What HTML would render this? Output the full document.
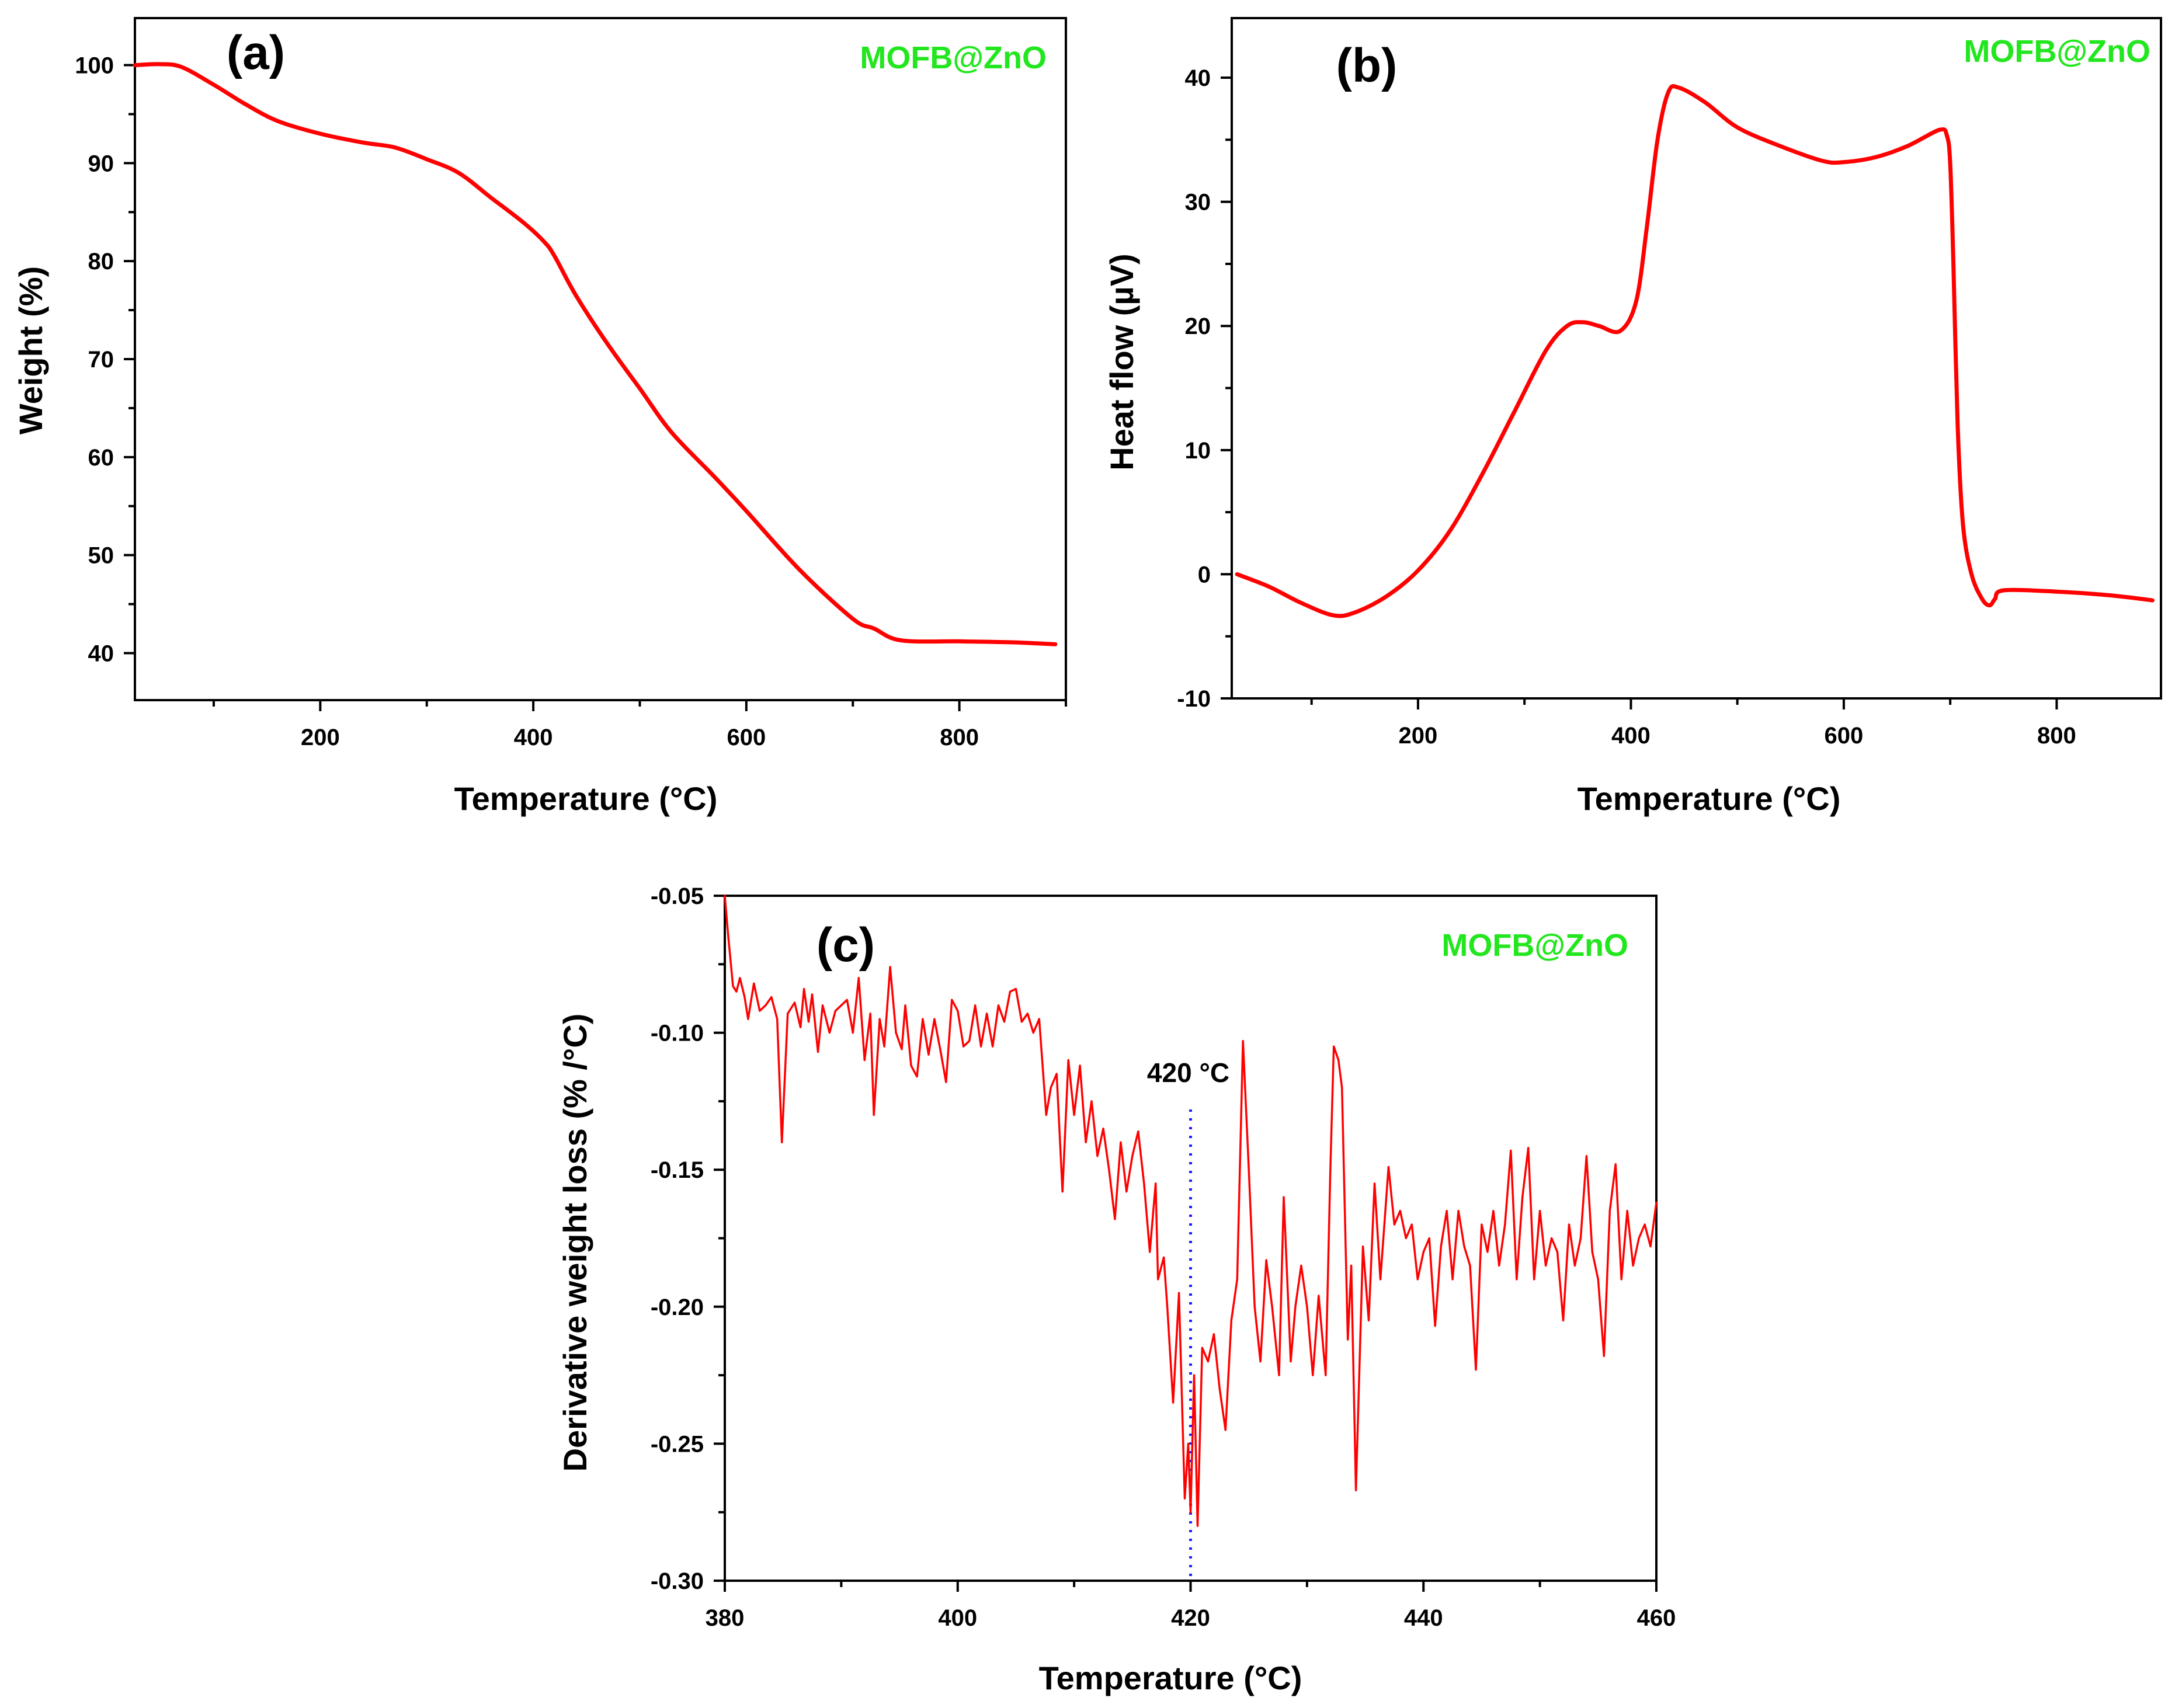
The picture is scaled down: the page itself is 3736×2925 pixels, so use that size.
<!DOCTYPE html>
<html><head><meta charset="utf-8">
<style>
html,body{margin:0;padding:0;background:#fff;}
svg{display:block;font-family:"Liberation Sans",sans-serif;}
</style></head>
<body>
<svg id="fig" width="3736" height="2925" viewBox="0 0 3736 2925" xmlns="http://www.w3.org/2000/svg"></svg>
<script>
// Panel (a) TGA data
const aTemp = [26,50,70,100,130,160,200,240,270,300,330,360,390,410,420,440,470,500,530,570,600,650,700,720,745,800,850,890];
const aWeight = [100,100.1,99.8,98,96,94.3,93,92.1,91.6,90.4,89,86.5,84,82,80.5,76.5,71.5,67,62.5,58,54.5,48.5,43.5,42.5,41.3,41.2,41.1,40.9];
// Panel (b) DTA data
const bTemp = [30,60,90,120,140,170,200,230,260,290,320,340,355,370,390,405,415,425,435,445,470,500,540,580,600,630,660,690,697,700,703,707,712,720,730,737,742,750,800,850,890];
const bHeat = [0,-1,-2.3,-3.3,-3.1,-1.8,0.3,3.5,8,13,18,20,20.3,20,19.6,22,28,35,38.8,39.2,38,36,34.5,33.3,33.2,33.6,34.5,35.8,35.3,33,25,12,4,0,-2,-2.5,-2,-1.3,-1.4,-1.7,-2.1];
// Panel (c) DTG data
const cTemp = [380,380.3,380.7,381,381.3,381.7,382,382.5,383,383.5,
384,384.5,384.9,385.4,386,386.5,386.8,387.2,387.5,388,
388.4,389,389.5,390,390.5,391,391.5,392,392.5,392.8,
393.3,393.7,394.2,394.7,395.2,395.5,396,396.5,397,397.5,
398,398.5,399,399.5,400,400.5,401,401.5,402,402.5,
403,403.5,404,404.5,405,405.5,406,406.5,407,407.6,
408,408.5,409,409.5,410,410.5,411,411.5,412,412.5,
413,413.5,414,414.5,415,415.5,416,416.5,417,417.2,
417.7,418,418.5,419,419.5,419.8,420,420.3,420.6,421,
421.5,422,422.5,423,423.5,424,424.5,425,425.5,426,
426.5,427,427.6,428,428.6,429,429.5,430,430.5,431,
431.6,432,432.3,432.7,433,433.5,433.8,434.2,434.8,435.3,
435.8,436.3,437,437.5,438,438.5,439,439.5,440,440.5,
441,441.5,442,442.5,443,443.5,444,444.5,445,445.5,
446,446.5,447,447.5,448,448.5,449,449.5,450,450.5,
451,451.5,452,452.5,453,453.5,454,454.5,455,455.5,
456,456.5,457,457.5,458,458.5,459,459.5,460];
const cDeriv = [-0.05,-0.065,-0.083,-0.085,-0.08,-0.087,-0.095,-0.082,-0.092,-0.09,
-0.087,-0.095,-0.14,-0.093,-0.089,-0.098,-0.084,-0.096,-0.086,-0.107,
-0.09,-0.1,-0.092,-0.09,-0.088,-0.1,-0.08,-0.11,-0.093,-0.13,
-0.095,-0.105,-0.076,-0.1,-0.106,-0.09,-0.112,-0.116,-0.095,-0.108,
-0.095,-0.106,-0.118,-0.088,-0.092,-0.105,-0.103,-0.09,-0.105,-0.093,
-0.105,-0.09,-0.096,-0.085,-0.084,-0.096,-0.093,-0.1,-0.095,-0.13,
-0.12,-0.115,-0.158,-0.11,-0.13,-0.112,-0.14,-0.125,-0.145,-0.135,
-0.15,-0.168,-0.14,-0.158,-0.145,-0.136,-0.155,-0.18,-0.155,-0.19,
-0.182,-0.2,-0.235,-0.195,-0.27,-0.25,-0.275,-0.225,-0.28,-0.215,
-0.22,-0.21,-0.23,-0.245,-0.205,-0.19,-0.103,-0.15,-0.2,-0.22,
-0.183,-0.2,-0.225,-0.16,-0.22,-0.2,-0.185,-0.2,-0.225,-0.196,
-0.225,-0.15,-0.105,-0.11,-0.12,-0.212,-0.185,-0.267,-0.178,-0.205,
-0.155,-0.19,-0.149,-0.17,-0.165,-0.175,-0.17,-0.19,-0.18,-0.175,
-0.207,-0.178,-0.165,-0.19,-0.165,-0.178,-0.185,-0.223,-0.17,-0.18,
-0.165,-0.185,-0.17,-0.143,-0.19,-0.16,-0.142,-0.19,-0.165,-0.185,
-0.175,-0.18,-0.205,-0.17,-0.185,-0.175,-0.145,-0.18,-0.19,-0.218,
-0.165,-0.148,-0.19,-0.165,-0.185,-0.175,-0.17,-0.178,-0.162];

const NS='http://www.w3.org/2000/svg';
const svg=document.getElementById('fig');
function el(tag,attrs,parent,text){
  const e=document.createElementNS(NS,tag);
  for(const k in attrs)e.setAttribute(k,attrs[k]);
  if(text!==undefined)e.textContent=text;
  (parent||svg).appendChild(e);return e;
}
function smoothPath(pts){
  let d='M'+pts[0][0].toFixed(1)+' '+pts[0][1].toFixed(1);
  for(let i=0;i<pts.length-1;i++){
    const p0=pts[Math.max(0,i-1)],p1=pts[i],p2=pts[i+1],p3=pts[Math.min(pts.length-1,i+2)];
    const c1=[p1[0]+(p2[0]-p0[0])/6,p1[1]+(p2[1]-p0[1])/6];
    const c2=[p2[0]-(p3[0]-p1[0])/6,p2[1]-(p3[1]-p1[1])/6];
    d+=` C${c1[0].toFixed(1)} ${c1[1].toFixed(1)} ${c2[0].toFixed(1)} ${c2[1].toFixed(1)} ${p2[0].toFixed(1)} ${p2[1].toFixed(1)}`;
  }
  return d;
}
function panel(cfg){
  const g=el('g',{},svg);
  
  
  const X=v=>cfg.L+(v-cfg.x0)/(cfg.x1-cfg.x0)*(cfg.R-cfg.L);
  const Y=v=>cfg.B-(v-cfg.y0)/(cfg.y1-cfg.y0)*(cfg.B-cfg.T);
  cfg.xMinor.forEach(v=>{const t=el('line',{x1:X(v),x2:X(v),y1:cfg.B,y2:cfg.B+11,stroke:'#000','stroke-width':4},g);
    
    });
  cfg.xMajor.forEach(v=>{const t=el('line',{x1:X(v),x2:X(v),y1:cfg.B,y2:cfg.B+19,stroke:'#000','stroke-width':4},g);
    
    
    const l=el('text',{x:X(v),y:cfg.B+77,'font-size':40,'font-weight':'bold','text-anchor':'middle'},g,cfg.xFmt(v));
    
    });
  cfg.yMinor.forEach(v=>{const t=el('line',{x1:cfg.L-11,x2:cfg.L,y1:Y(v),y2:Y(v),stroke:'#000','stroke-width':4},g);
    
    });
  cfg.yMajor.forEach(v=>{const t=el('line',{x1:cfg.L-19,x2:cfg.L,y1:Y(v),y2:Y(v),stroke:'#000','stroke-width':4},g);
    
    
    const l=el('text',{x:cfg.L-36,y:Y(v)+14,'font-size':40,'font-weight':'bold','text-anchor':'end'},g,cfg.yFmt(v));
    
    });
  const f=el('rect',{x:cfg.L,y:cfg.T,width:cfg.R-cfg.L,height:cfg.B-cfg.T,fill:'none',stroke:'#000','stroke-width':4},g);
  
  
  if(cfg.extra)cfg.extra(g,X,Y);
  const pts=cfg.xs.map((v,i)=>[X(v),Y(cfg.ys[i])]);
  const d=cfg.smooth?smoothPath(pts):pts.map((p,i)=>(i?'L':'M')+p[0].toFixed(1)+' '+p[1].toFixed(1)).join(' ');
  const p=el('path',{d:d,fill:'none',stroke:'#ff0000','stroke-width':cfg.lw,'stroke-linejoin':'round','stroke-linecap':'round'},g);
  
  
  const xt=el('text',{x:cfg.xtX,y:cfg.xtY,'font-size':56,'font-weight':'bold','text-anchor':'middle'},g,'Temperature (°C)');
  
  
  const yt=el('text',{x:0,y:0,'font-size':56,'font-weight':'bold','text-anchor':'middle',transform:`translate(${cfg.ytX},${cfg.ytY}) rotate(-90)`},g,cfg.yTitle);
  
  
  const pl=el('text',{x:cfg.plX,y:cfg.plY,'font-size':82,'font-weight':'bold','text-anchor':'middle'},g,'('+cfg.id+')');
  
  
  const sl=el('text',{x:cfg.slX,y:cfg.slY,'font-size':54,'font-weight':'bold','fill':'#22e61e','text-anchor':'end'},g,'MOFB@ZnO');
  
  
}
const r=(a,b,s)=>{const o=[];for(let v=a;v<=b+1e-9;v+=s)o.push(+v.toFixed(4));return o;};
panel({id:'a',L:231,R:1825,T:31,B:1199,x0:26,x1:900,y0:35.2,y1:104.8,
  xMajor:[200,400,600,800],xMinor:[100,300,500,700,900],yMajor:r(40,100,10),yMinor:r(45,95,10),
  xFmt:v=>v,yFmt:v=>v,xs:aTemp,ys:aWeight,lw:7,smooth:true,
  xtX:1003,xtY:1387,yTitle:'Weight (%)',ytX:72,ytY:600,plX:438,plY:118,slX:1792,slY:117});
panel({id:'b',L:2109,R:3700,T:31,B:1196,x0:25,x1:898,y0:-10,y1:44.8,
  xMajor:[200,400,600,800],xMinor:[100,300,500,700],yMajor:r(-10,40,10),yMinor:r(-5,35,10),
  xFmt:v=>v,yFmt:v=>v,xs:bTemp,ys:bHeat,lw:7,smooth:true,
  xtX:2926,xtY:1387,yTitle:'Heat flow (µV)',ytX:1940,ytY:620,plX:2340,plY:140,slX:3682,slY:106});
panel({id:'c',L:1241,R:2836,T:1534,B:2707,x0:380,x1:460,y0:-0.30,y1:-0.05,
  xMajor:r(380,460,20),xMinor:r(390,450,20),yMajor:r(-0.30,-0.05,0.05),yMinor:r(-0.275,-0.075,0.05),
  xFmt:v=>v,yFmt:v=>v.toFixed(2),xs:cTemp,ys:cDeriv,lw:3.5,smooth:false,
  xtX:2004,xtY:2893,yTitle:'Derivative weight loss (% /°C)',ytX:1004,ytY:2128,plX:1448,plY:1646,slX:2788,slY:1637,
  extra:(g,X,Y)=>{
    const dl=el('line',{x1:X(420),x2:X(420),y1:Y(-0.128),y2:Y(-0.30),stroke:'#1f1fff','stroke-width':5,'stroke-dasharray':'4 11'},g);
    
    
    const lt=el('text',{x:X(419.8),y:Y(-0.118),'font-size':46,'font-weight':'bold','text-anchor':'middle'},g,'420 °C');
    
    
  }});
</script>
</body></html>
